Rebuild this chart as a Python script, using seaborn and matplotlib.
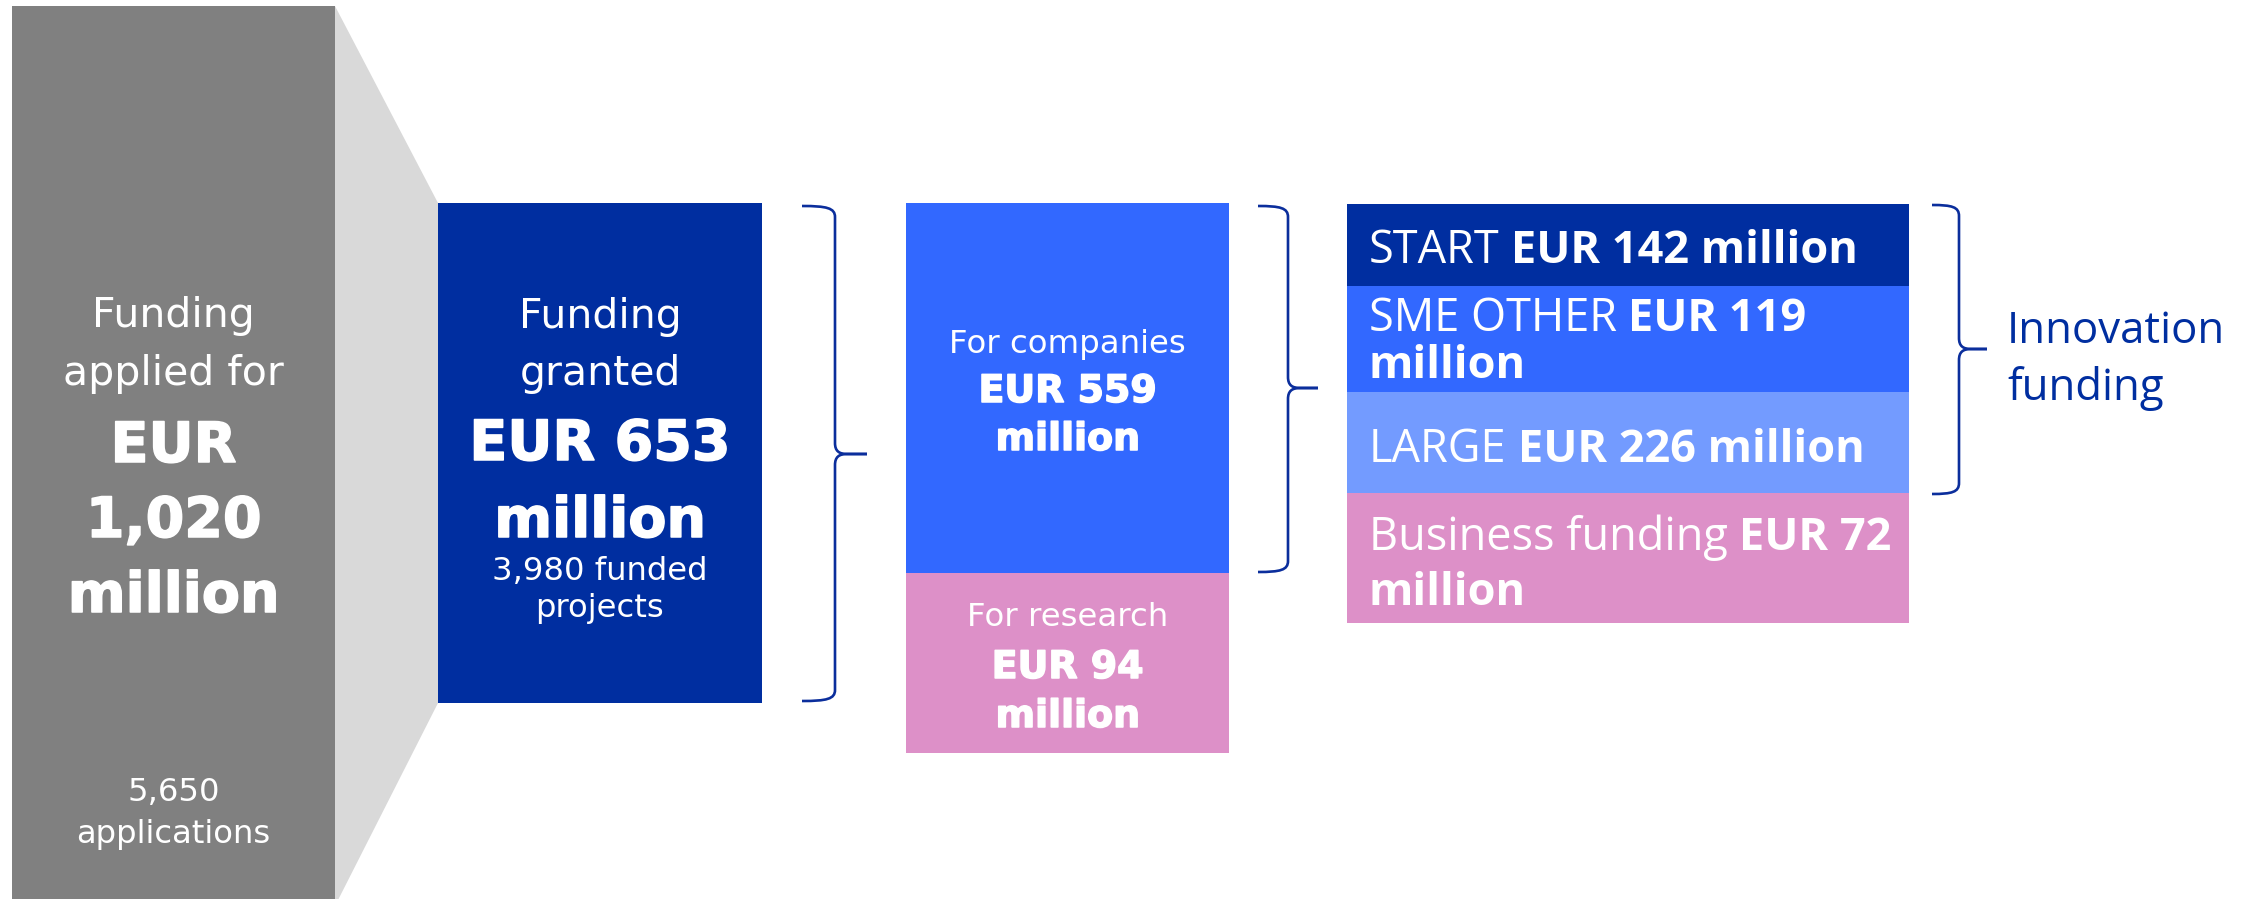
import matplotlib
matplotlib.use("Agg")
import matplotlib.pyplot as plt
from matplotlib.path import Path
from matplotlib.patches import PathPatch
from matplotlib import font_manager as fm
import matplotlib.patheffects as pe
import seaborn as sns

# ---------------- data ----------------
stage_titles = [["Funding", "applied for"], ["Funding", "granted"]]
stage_amounts = [1020, 653]
stage_counts = [5650, 3980]
stage_count_labels = ["applications", "funded projects"]
split_titles = ["For companies", "For research"]
split_amounts = [559, 94]
segment_titles = ["START", "SME OTHER", "LARGE", "Business funding"]
segment_amounts = [142, 119, 226, 72]
group_label = ["Innovation", "funding"]
currency = "EUR"
unit = "million"

# ---------------- style ----------------
sns.set_theme(style="white")
plt.rcParams["font.family"] = ["DejaVu Sans"]


def _w(v):
    if isinstance(v, str):
        return fm.weight_dict.get(v, 400)
    return v


def has_regular_and_bold(name):
    ws = [_w(f.weight) for f in fm.fontManager.ttflist
          if f.name == name and f.style == "normal"]
    return any(w <= 450 for w in ws) and any(w >= 650 for w in ws)


RIGHT_NAME = next((n for n in ["Noto Sans", "Open Sans", "Lato", "Roboto"]
                   if has_regular_and_bold(n)), "DejaVu Sans")
LEFT_FONT = ["DejaVu Sans"]
RIGHT_FONT = [RIGHT_NAME, "DejaVu Sans"]

GRAY = "#808080"
LIGHT_GRAY = "#D9D9D9"
NAVY = "#002EA0"
BLUE = "#3268FF"
LIGHT_BLUE = "#739BFF"
PINK = "#DD90C8"
BRACE = "#0B2E9C"
WHITE = "white"
THICK = [pe.withStroke(linewidth=1.1, foreground=WHITE)]

W, H = 2254, 899
fig = plt.figure(figsize=(W / 100, H / 100), dpi=100)
ax = fig.add_axes([0, 0, 1, 1])
ax.set_xlim(0, W)
ax.set_ylim(H, 0)
ax.axis("off")
renderer = fig.canvas.get_renderer()


def box(x, y, w, h, color):
    ax.bar(x, h, width=w, bottom=y, align="edge", color=color, linewidth=0)


def centered_lines(cx, lines):
    for text, y, size, weight in lines:
        ax.text(cx, y, text, ha="center", va="baseline", fontsize=size,
                fontweight=weight, color=WHITE, family=LEFT_FONT,
                path_effects=THICK if weight == "bold" else None)


def run(x, y, parts, size, color=WHITE, family=RIGHT_FONT):
    gap = 0.25 * size * 100 / 72
    for text, weight in parts:
        t = ax.text(x, y, text, ha="left", va="baseline", fontsize=size,
                    fontweight=weight, color=color, family=family)
        bb = t.get_window_extent(renderer=renderer)
        x += bb.width + gap


def brace(x0, xv, xt, ytop, ybot, ymid, r=11):
    M, C, L = Path.MOVETO, Path.CURVE4, Path.LINETO
    xc = x0 + 0.75 * (xv - x0)
    upper = [(x0, ytop), (xc, ytop), (xv, ytop + 2), (xv, ytop + r),
             (xv, ymid - r), (xv, ymid - 3), (xv + 4, ymid), (xv + 12, ymid),
             (xt, ymid)]
    lower = [(xt, ymid), (xv + 12, ymid), (xv + 4, ymid), (xv, ymid + 3),
             (xv, ymid + r), (xv, ybot - r), (xv, ybot - 2), (xc, ybot),
             (x0, ybot)]
    codes_u = [M, C, C, C, L, C, C, C, L]
    codes_l = [M, L, C, C, C, L, C, C, C]
    for v, c in ((upper, codes_u), (lower, codes_l)):
        ax.add_patch(PathPatch(Path(v, c), fill=False, edgecolor=BRACE,
                               linewidth=1.9, capstyle="butt", joinstyle="round"))


# ---------------- funnel: applied -> granted ----------------
gx, gy, gw, gh = 12, 6, 323, 900
bx, by, bw, bh = 438, 203, 324, 500
ax.fill([gx + gw, bx, bx, gx + gw], [gy, by, by + bh, gy + gh],
        color=LIGHT_GRAY, linewidth=0)
box(gx, gy, gw, gh, GRAY)
box(bx, by, bw, bh, NAVY)

BIG_REG, BIG_BOLD, SMALL = 29.5, 40, 23.2

# applied box
a_lines = stage_titles[0] + [currency, f"{stage_amounts[0]:,}", unit]
a_y = [327, 385, 462, 537, 612]
a_sz = [BIG_REG, BIG_REG, BIG_BOLD, BIG_BOLD, BIG_BOLD]
a_wt = ["normal", "normal", "bold", "bold", "bold"]
centered_lines(gx + gw / 2, list(zip(a_lines, a_y, a_sz, a_wt)))
cnt_words = f"{stage_counts[0]:,} {stage_count_labels[0]}".split()
centered_lines(gx + gw / 2, [(" ".join(cnt_words[:1]), 801, SMALL, "normal"),
                             (" ".join(cnt_words[1:]), 843, SMALL, "normal")])

# granted box
g_lines = stage_titles[1] + [f"{currency} {stage_amounts[1]:,}", unit]
g_y = [328, 385, 460, 537]
g_sz = [BIG_REG, BIG_REG, BIG_BOLD, BIG_BOLD]
g_wt = ["normal", "normal", "bold", "bold"]
centered_lines(bx + bw / 2, list(zip(g_lines, g_y, g_sz, g_wt)))
cnt_words = f"{stage_counts[1]:,} {stage_count_labels[1]}".split()
centered_lines(bx + bw / 2, [(" ".join(cnt_words[:2]), 580, SMALL, "normal"),
                             (" ".join(cnt_words[2:]), 617, SMALL, "normal")])

brace(802, 835, 867, 206, 701, 454)

# ---------------- split: companies / research ----------------
sx, sw = 906, 323
split_tops = [203, 573]
split_bottoms = [573, 753]
split_colors = [BLUE, PINK]
split_base = [[353, 402, 450], [626, 678, 727]]
for title, amt, top, bot, col, ys in zip(split_titles, split_amounts, split_tops,
                                         split_bottoms, split_colors, split_base):
    box(sx, top, sw, bot - top, col)
    centered_lines(sx + sw / 2, [(title, ys[0], 23.3, "normal"),
                                 (f"{currency} {amt}", ys[1], 27.3, "bold"),
                                 (unit, ys[2], 27.3, "bold")])

brace(1258, 1288, 1318, 206, 572, 388)

# ---------------- segments ----------------
rx, rw = 1347, 562
seg_tops = [204, 286, 392, 493]
seg_bottoms = [286, 392, 493, 623]
seg_colors = [NAVY, BLUE, LIGHT_BLUE, PINK]
seg_wrap = [False, True, False, True]
seg_base = [[263], [331, 378], [462], [550, 605]]
SEG_SIZE = 32.5
for title, amt, top, bot, col, wrap, ys in zip(segment_titles, segment_amounts,
                                               seg_tops, seg_bottoms, seg_colors,
                                               seg_wrap, seg_base):
    box(rx, top, rw, bot - top, col)
    tx = rx + 22
    if wrap:
        run(tx, ys[0], [(title, "normal"), (f"{currency} {amt}", "bold")], SEG_SIZE)
        run(tx, ys[1], [(unit, "bold")], SEG_SIZE)
    else:
        run(tx, ys[0], [(title, "normal"), (f"{currency} {amt} {unit}", "bold")], SEG_SIZE)

brace(1932, 1959, 1987, 205, 494, 349)
for txt, y in zip(group_label, [343, 400]):
    ax.text(2007, y, txt, ha="left", va="baseline", fontsize=31.5,
            color=NAVY, family=RIGHT_FONT)

fig.savefig("out.png", dpi=100)
